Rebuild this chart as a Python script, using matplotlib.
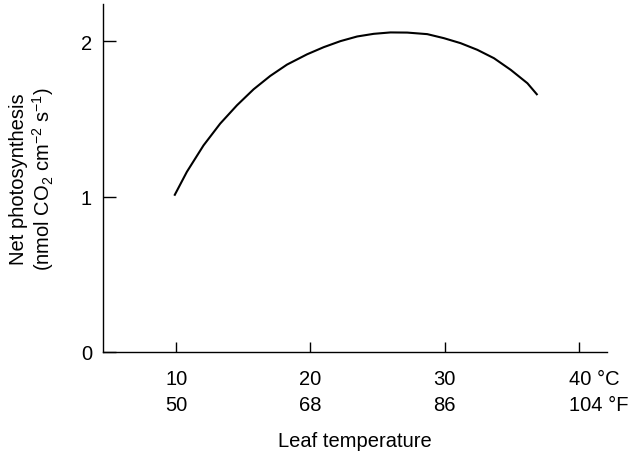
import matplotlib
matplotlib.use("Agg")
import matplotlib.pyplot as plt
from matplotlib.transforms import ScaledTranslation

# Data (leaf temperature in degC, net photosynthesis)
temp_c = [9.90, 10.80, 12.04, 13.28, 14.53, 15.77, 17.01, 18.26, 19.75, 20.99, 22.24, 23.49,
          24.72, 25.97, 27.22, 28.71, 29.95, 31.19, 32.44, 33.68, 34.93, 36.17, 36.87]
net_ps = [1.012, 1.160, 1.330, 1.470, 1.588, 1.691, 1.777, 1.850, 1.916, 1.962, 2.001, 2.031,
          2.048, 2.057, 2.056, 2.046, 2.020, 1.988, 1.945, 1.891, 1.816, 1.730, 1.659]

x_ticks = [10, 20, 30, 40]
x_ticklabels = ["10\n50", "20\n68", "30\n86", "40 °C\n104 °F"]
y_ticks = [0, 1, 2]
y_ticklabels = ["0", "1", "2"]

plt.rcParams['font.family'] = ['Liberation Sans', 'DejaVu Sans']
plt.rcParams['mathtext.fontset'] = 'custom'
plt.rcParams['mathtext.rm'] = 'Liberation Sans'
plt.rcParams['mathtext.it'] = 'Liberation Sans:italic'

FS = 14.5
fig = plt.figure(figsize=(6.33, 4.52), dpi=100)
ax = fig.add_axes([103/633, 1-353/452, (607-103)/633, (353-5)/452])

ax.plot(temp_c, net_ps, color='black', lw=1.5, solid_joinstyle='round')

ax.set_xlim(4.55, 42.1)
ax.set_ylim(0, 2.24)

for s in ['top', 'right']:
    ax.spines[s].set_visible(False)
for s in ['left', 'bottom']:
    ax.spines[s].set_linewidth(1.0)

ax.set_xticks(x_ticks)
ax.set_xticklabels(x_ticklabels, fontsize=FS, linespacing=1.5)
ax.set_yticks(y_ticks)
ax.set_yticklabels(y_ticklabels, fontsize=FS)
ax.tick_params(axis='y', direction='in', length=9.4, width=1.0, pad=8)
ax.tick_params(axis='x', direction='in', length=7.4, width=1.0, pad=12)

lab = ax.get_xticklabels()[-1]
lab.set_horizontalalignment('left')
lab.set_multialignment('left')
lab.set_transform(lab.get_transform() + ScaledTranslation(-10/100, 0, fig.dpi_scale_trans))

ax.set_xlabel("Leaf temperature", fontsize=FS)
ax.xaxis.set_label_coords(0.5, (353-432)/348)
ax.set_ylabel("Net photosynthesis\n(nmol CO$_2$ cm$^{-2}$ s$^{-1}$)", fontsize=FS,
              linespacing=1.1)
ax.yaxis.set_label_coords((56-103)/504, 0.5)

fig.savefig("out.png", dpi=100)
